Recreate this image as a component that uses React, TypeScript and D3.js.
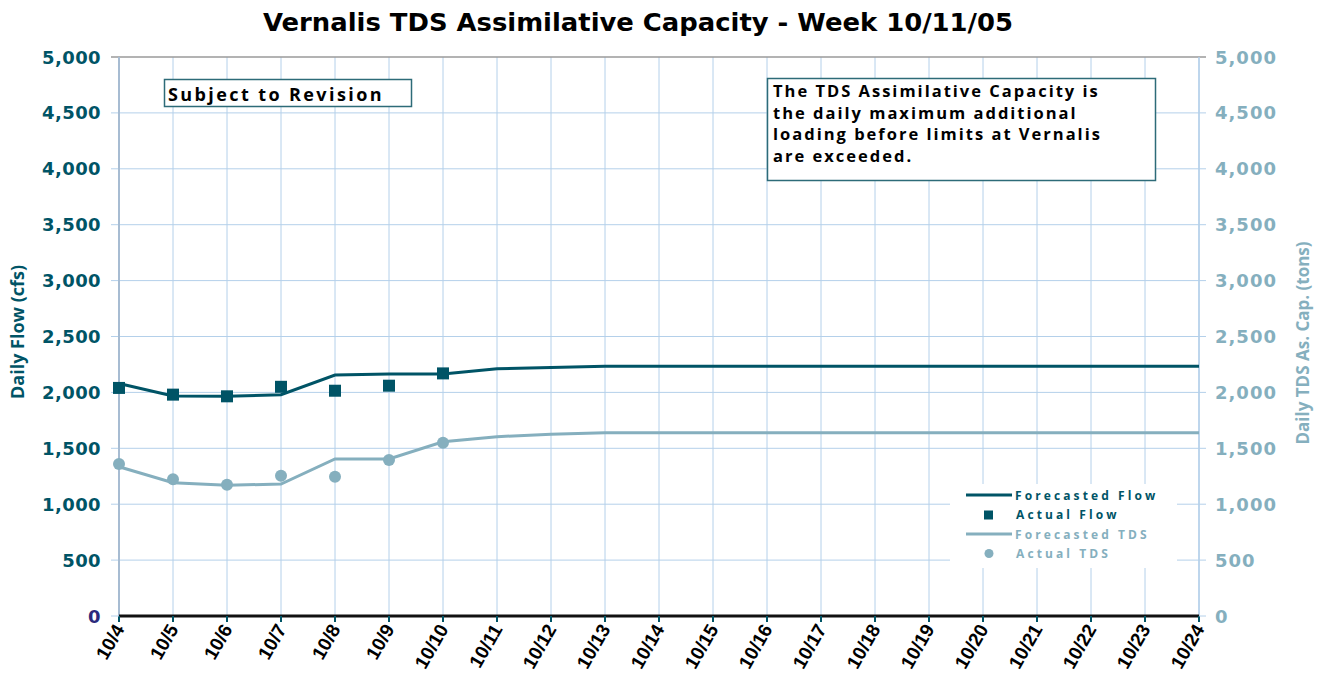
import React, { useEffect, useRef } from "react";
import * as d3 from "d3";

const days = [
  "10/4", "10/5", "10/6", "10/7", "10/8", "10/9", "10/10", "10/11", "10/12", "10/13", "10/14",
  "10/15", "10/16", "10/17", "10/18", "10/19", "10/20", "10/21", "10/22", "10/23", "10/24",
];

// forecasted flow (cfs), one value per day
const forecastFlow = [
  2080, 1968, 1965, 1980, 2155, 2165, 2165, 2212, 2222, 2235, 2235,
  2235, 2235, 2235, 2235, 2235, 2235, 2235, 2235, 2235, 2235,
];
// actual flow only for the past week
const actualFlow = [2040, 1980, 1965, 2050, 2015, 2060, 2170];

// forecasted TDS assimilative capacity (tons)
const forecastTDS = [
  1335, 1192, 1170, 1180, 1405, 1405, 1558, 1604, 1626, 1638, 1638,
  1638, 1638, 1638, 1638, 1638, 1638, 1638, 1638, 1638, 1638,
];
const actualTDS = [1360, 1223, 1175, 1255, 1246, 1395, 1550];

const yTicks = [0, 500, 1000, 1500, 2000, 2500, 3000, 3500, 4000, 4500, 5000];

const noteLines = [
  "The TDS Assimilative Capacity is",
  "the daily maximum additional",
  "loading before limits at Vernalis",
  "are exceeded.",
];

const W = 1320;
const H = 679;
const FLOW = "#005466";
const TDS = "#85afbe";
const GRID = "#b4d0ea";

const App: React.FC = () => {
  const ref = useRef<SVGSVGElement>(null);

  useEffect(() => {
    if (!ref.current) return;
    const svg = d3.select(ref.current);
    svg.selectAll("*").remove();

    const x = d3.scalePoint<string>().domain(days).range([119, 1199]);
    const y = d3.scaleLinear().domain([0, 5000]).range([616, 57]);
    const y2 = d3.scaleLinear().domain([0, 5000]).range([616, 57]);

    svg.append("rect").attr("width", W).attr("height", H).attr("fill", "#fff");

    // title
    svg
      .append("text")
      .attr("x", 263)
      .attr("y", 31)
      .attr("textLength", 750)
      .attr("lengthAdjust", "spacingAndGlyphs")
      .attr("font-family", "'DejaVu Sans', Verdana, sans-serif")
      .attr("font-weight", "bold")
      .attr("font-size", 24)
      .attr("fill", "#000")
      .text("Vernalis TDS Assimilative Capacity - Week 10/11/05");

    const grid = svg.append("g");
    // vertical grid
    grid
      .selectAll("line.v")
      .data(days.slice(1))
      .enter()
      .append("line")
      .attr("x1", (d) => x(d)!)
      .attr("x2", (d) => x(d)!)
      .attr("y1", y(5000))
      .attr("y2", y(0))
      .attr("stroke", GRID)
      .attr("stroke-width", 1);
    // horizontal grid
    grid
      .selectAll("line.h")
      .data(yTicks.slice(1, -1))
      .enter()
      .append("line")
      .attr("x1", 111)
      .attr("x2", 1206)
      .attr("y1", (d) => y(d))
      .attr("y2", (d) => y(d))
      .attr("stroke", GRID)
      .attr("stroke-width", 1);
    // top border
    grid
      .append("line")
      .attr("x1", 111)
      .attr("x2", 1206)
      .attr("y1", y(5000))
      .attr("y2", y(5000))
      .attr("stroke", "#9a9a9a")
      .attr("stroke-width", 1.5);
    // left / right axis lines
    grid
      .append("line")
      .attr("x1", 119)
      .attr("x2", 119)
      .attr("y1", y(5000))
      .attr("y2", y(0))
      .attr("stroke", "#a7bcd2")
      .attr("stroke-width", 2);
    grid
      .append("line")
      .attr("x1", 1199)
      .attr("x2", 1199)
      .attr("y1", y(5000))
      .attr("y2", y(0))
      .attr("stroke", GRID)
      .attr("stroke-width", 1.5);

    // left axis labels
    svg
      .append("g")
      .selectAll("text")
      .data(yTicks)
      .enter()
      .append("text")
      .attr("x", 101)
      .attr("y", (d) => y(d) + 6.5)
      .attr("text-anchor", "end")
      .attr("font-family", "'DejaVu Sans', Verdana, sans-serif")
      .attr("font-weight", "bold")
      .attr("font-size", 18)
      .attr("letter-spacing", 0.4)
      .attr("fill", (d) => (d === 0 ? "#2b2a7c" : FLOW))
      .text((d) => d3.format(",")(d));

    // right axis labels
    svg
      .append("g")
      .selectAll("text")
      .data(yTicks)
      .enter()
      .append("text")
      .attr("x", 1215)
      .attr("y", (d) => y2(d) + 6.5)
      .attr("text-anchor", "start")
      .attr("font-family", "'DejaVu Sans', Verdana, sans-serif")
      .attr("font-weight", "bold")
      .attr("font-size", 18)
      .attr("letter-spacing", 1)
      .attr("fill", TDS)
      .text((d) => d3.format(",")(d));

    // axis titles
    svg
      .append("text")
      .attr("transform", "translate(24,332) rotate(-90)")
      .attr("text-anchor", "middle")
      .attr("font-family", "'Open Sans', sans-serif")
      .attr("font-weight", "bold")
      .attr("font-size", 18)
      .attr("fill", FLOW)
      .text("Daily Flow (cfs)");
    svg
      .append("text")
      .attr("transform", "translate(1309,343) rotate(-90)")
      .attr("text-anchor", "middle")
      .attr("font-family", "'Open Sans', sans-serif")
      .attr("font-weight", "bold")
      .attr("font-size", 17)
      .attr("fill", TDS)
      .text("Daily TDS As. Cap. (tons)");

    // subject to revision box
    svg
      .append("rect")
      .attr("x", 164.5)
      .attr("y", 79.5)
      .attr("width", 247)
      .attr("height", 27)
      .attr("fill", "#fff")
      .attr("stroke", "#2d6b78")
      .attr("stroke-width", 1.5);
    svg
      .append("text")
      .attr("x", 168)
      .attr("y", 101)
      .attr("font-family", "'Open Sans', sans-serif")
      .attr("font-weight", "bold")
      .attr("font-size", 18)
      .attr("letter-spacing", 2.4)
      .attr("fill", "#000")
      .text("Subject to Revision");

    // note box
    svg
      .append("rect")
      .attr("x", 767.5)
      .attr("y", 78.5)
      .attr("width", 388)
      .attr("height", 102)
      .attr("fill", "#fff")
      .attr("stroke", "#2d6b78")
      .attr("stroke-width", 1.5);
    svg
      .append("g")
      .selectAll("text")
      .data(noteLines)
      .enter()
      .append("text")
      .attr("x", 773)
      .attr("y", (_, i) => 97 + i * 21.5)
      .attr("font-family", "'Open Sans', sans-serif")
      .attr("font-weight", "bold")
      .attr("font-size", 16.5)
      .attr("letter-spacing", 2)
      .attr("fill", "#000")
      .text((d) => d);

    // series
    const flowLine = d3
      .line<number>()
      .x((_, i) => x(days[i])!)
      .y((d) => y(d));
    const tdsLine = d3
      .line<number>()
      .x((_, i) => x(days[i])!)
      .y((d) => y2(d));

    svg
      .append("path")
      .attr("d", tdsLine(forecastTDS)!)
      .attr("fill", "none")
      .attr("stroke", TDS)
      .attr("stroke-width", 3);
    svg
      .append("path")
      .attr("d", flowLine(forecastFlow)!)
      .attr("fill", "none")
      .attr("stroke", FLOW)
      .attr("stroke-width", 3);

    svg
      .append("g")
      .selectAll("circle")
      .data(actualTDS)
      .enter()
      .append("circle")
      .attr("cx", (_, i) => x(days[i])!)
      .attr("cy", (d) => y2(d))
      .attr("r", 6)
      .attr("fill", TDS);
    svg
      .append("g")
      .selectAll("rect")
      .data(actualFlow)
      .enter()
      .append("rect")
      .attr("x", (_, i) => x(days[i])! - 6)
      .attr("y", (d) => y(d) - 6)
      .attr("width", 12)
      .attr("height", 12)
      .attr("fill", FLOW);

    // x axis
    svg
      .append("line")
      .attr("x1", 119)
      .attr("x2", 1199)
      .attr("y1", y(0))
      .attr("y2", y(0))
      .attr("stroke", "#111")
      .attr("stroke-width", 3);
    svg
      .append("g")
      .selectAll("line")
      .data(days)
      .enter()
      .append("line")
      .attr("x1", (d) => x(d)!)
      .attr("x2", (d) => x(d)!)
      .attr("y1", y(0))
      .attr("y2", y(0) + 6)
      .attr("stroke", FLOW)
      .attr("stroke-width", 2);
    // small ticks at the y axes
    svg
      .append("line")
      .attr("x1", 111)
      .attr("x2", 119)
      .attr("y1", y(0))
      .attr("y2", y(0))
      .attr("stroke", GRID);
    svg
      .append("line")
      .attr("x1", 1199)
      .attr("x2", 1206)
      .attr("y1", y(0))
      .attr("y2", y(0))
      .attr("stroke", GRID);

    svg
      .append("g")
      .selectAll("text")
      .data(days)
      .enter()
      .append("text")
      .attr("transform", (d) => `translate(${x(d)! + 6},${629}) rotate(-60)`)
      .attr("text-anchor", "end")
      .attr("font-family", "'Liberation Sans', Arial, sans-serif")
      .attr("font-weight", "bold")
      .attr("font-size", 19)
      .attr("fill", "#000")
      .text((d) => d);

    // legend
    const lg = svg.append("g");
    lg.append("rect")
      .attr("x", 950)
      .attr("y", 484)
      .attr("width", 227)
      .attr("height", 84)
      .attr("fill", "#fff");
    const items = [
      { label: "Forecasted Flow", color: FLOW, kind: "line" },
      { label: "Actual Flow", color: FLOW, kind: "square" },
      { label: "Forecasted TDS", color: TDS, kind: "line" },
      { label: "Actual TDS", color: TDS, kind: "dot" },
    ];
    items.forEach((it, i) => {
      const cy = 495 + i * 19.5;
      if (it.kind === "line") {
        lg.append("line")
          .attr("x1", 966)
          .attr("x2", 1012)
          .attr("y1", cy)
          .attr("y2", cy)
          .attr("stroke", it.color)
          .attr("stroke-width", 3);
      } else if (it.kind === "square") {
        lg.append("rect")
          .attr("x", 984)
          .attr("y", cy - 4)
          .attr("width", 9)
          .attr("height", 9)
          .attr("fill", it.color);
      } else {
        lg.append("circle").attr("cx", 989).attr("cy", cy).attr("r", 4.5).attr("fill", it.color);
      }
      lg.append("text")
        .attr("x", it.kind === "line" ? 1015 : 1016)
        .attr("y", cy + 4.5)
        .attr("font-family", "'Open Sans', sans-serif")
        .attr("font-weight", "bold")
        .attr("font-size", 12)
        .attr("letter-spacing", 3.1)
        .attr("fill", it.color)
        .text(it.label);
    });
  }, []);

  return (
    <svg
      ref={ref}
      width={W}
      height={H}
      style={{ position: "absolute", left: 0, top: 0, display: "block" }}
    />
  );
};

export default App;
